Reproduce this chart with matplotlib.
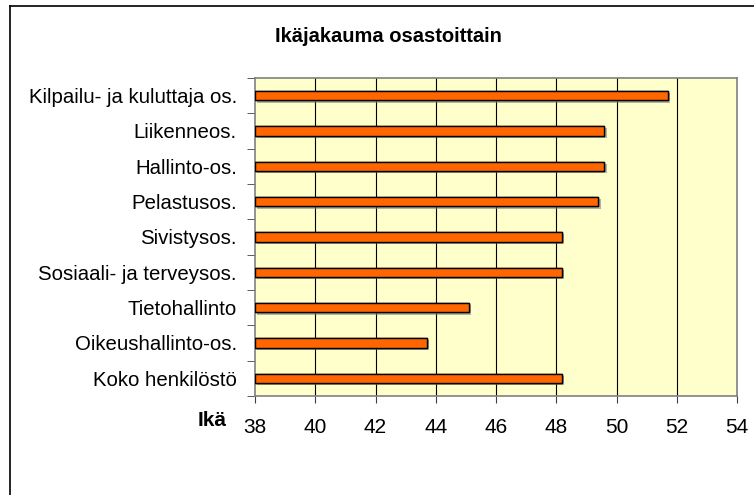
import matplotlib
matplotlib.use("Agg")
import matplotlib.pyplot as plt
import matplotlib.patheffects as pe
from matplotlib.lines import Line2D

plt.rcParams['font.family'] = ['Liberation Sans', 'DejaVu Sans']

departments = ["Kilpailu- ja kuluttaja os.", "Liikenneos.", "Hallinto-os.",
               "Pelastusos.", "Sivistysos.", "Sosiaali- ja terveysos.",
               "Tietohallinto", "Oikeushallinto-os.", "Koko henkilöstö"]
ages = [51.7, 49.6, 49.6, 49.4, 48.2, 48.2, 45.1, 43.7, 48.2]
x_ticks = [38, 40, 42, 44, 46, 48, 50, 52, 54]

fig = plt.figure(figsize=(7.54, 4.95), dpi=100)
ax = fig.add_axes([255 / 754, 99 / 495, 482 / 754, 318 / 495])
ax.set_facecolor("#FFFFCC")

pos = list(range(len(departments)))
bars = ax.barh(pos, [a - 38 for a in ages], left=38, height=0.27,
               color="#FF6600", edgecolor="black", linewidth=1.0, zorder=3)
for b in bars:
    b.set_path_effects([pe.withSimplePatchShadow(offset=(1.5, -1.5),
                                                 shadow_rgbFace="gray", alpha=0.6),
                        pe.Normal()])

ax.set_xlim(38, 54)
ax.set_ylim(len(departments) - 0.5, -0.5)
ax.set_xticks(x_ticks)
ax.set_xticklabels([str(t) for t in x_ticks], fontsize=15)
for t in x_ticks[1:-1]:
    ax.axvline(t, color="black", linewidth=0.8, zorder=1)

ax.set_yticks(pos)
ax.set_yticklabels(departments, fontsize=14.7)
ax.set_yticks([p - 0.5 for p in pos] + [len(pos) - 0.5], minor=True)
ax.tick_params(axis="y", which="major", length=0, pad=13)
ax.tick_params(axis="y", which="minor", length=6, direction="out", color="#404040")
ax.tick_params(axis="x", length=5, direction="out", pad=11, color="#404040")

for s in ax.spines.values():
    s.set_color("#808080")
    s.set_linewidth(1.2)

fig.text(388 / 754, 1 - 37 / 495, "Ikäjakauma osastoittain", fontsize=14.5,
         fontweight="bold", ha="center", va="center")
fig.text(212 / 754, 1 - 421 / 495, "Ikä", fontsize=15, fontweight="bold",
         ha="center", va="center")

# outer chart frame (only left and top edges visible)
fig.add_artist(Line2D([9.5 / 754, 9.5 / 754], [0, 1 - 6 / 495],
                      transform=fig.transFigure, color="black", linewidth=1.2))
fig.add_artist(Line2D([9.5 / 754, 1], [1 - 6 / 495, 1 - 6 / 495],
                      transform=fig.transFigure, color="black", linewidth=1.2))

fig.savefig("out.png", dpi=100)
